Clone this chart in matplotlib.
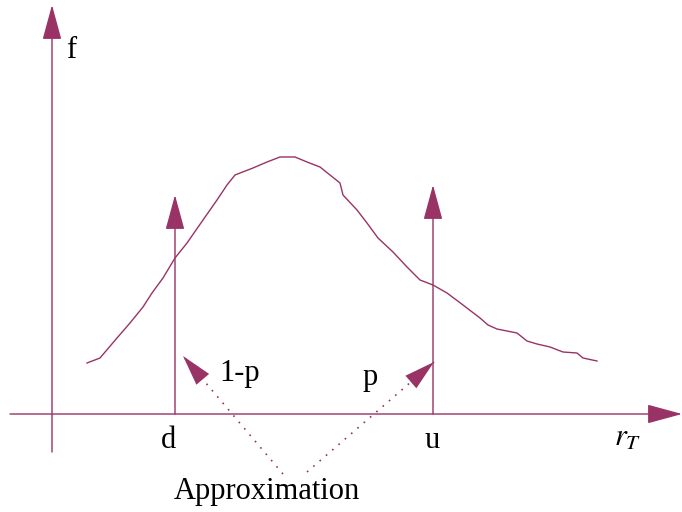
import matplotlib
matplotlib.use("Agg")
import matplotlib.pyplot as plt

# diagram drawn in pixel coordinates of the 682x512 picture (y grows downward)
curve_x = [87, 100, 117, 130, 143, 152, 163, 175, 187, 203, 217, 227, 235, 253,
           267, 280, 295, 307, 320, 330, 340, 343, 357, 367, 378, 393, 407, 420,
           433, 447, 463, 480, 488, 497, 517, 527, 537, 550, 563, 577, 583, 597]
curve_y = [363, 358, 338, 323, 307, 293, 278, 258, 243, 220, 200, 185, 175, 168,
           162, 157, 157, 162, 167, 175, 183, 195, 210, 223, 238, 252, 267, 280,
           285, 293, 305, 318, 325, 329, 333, 341, 344, 347, 352, 353, 358, 361]

labels = {"d": (168, 440), "u": (432, 440), "1-p": (240, 373), "p": (370, 378)}

col = "#993366"
fig = plt.figure(figsize=(6.82, 5.12), dpi=100)
ax = fig.add_axes([0, 0, 1, 1])
ax.set_xlim(0, 682)
ax.set_ylim(512, 0)
ax.axis("off")

def arrow(x0, y0, x1, y1, lw=1.0):
    ax.annotate("", xy=(x1, y1), xytext=(x0, y0),
                arrowprops=dict(arrowstyle="-|>,head_length=1.1,head_width=0.3",
                                mutation_scale=20, color=col, lw=lw,
                                shrinkA=0, shrinkB=0))

# axes
arrow(52, 452, 52, 5)
arrow(10, 414, 682, 414)
# spikes at d and u
arrow(175, 414, 175, 195)
arrow(433, 414, 433, 185)

# approximation pointers: dotted shaft, solid head
for (x0, y0), (x1, y1) in [((283, 474), (183, 356)), ((307, 472), (434, 362))]:
    ax.plot([x0, x1], [y0, y1], color=col, lw=1.2, ls=(0, (1, 4)))
    fx = x0 + (x1 - x0) * 0.8
    fy = y0 + (y1 - y0) * 0.8
    ax.annotate("", xy=(x1, y1), xytext=(fx, fy),
                arrowprops=dict(arrowstyle="-|>,head_length=1.1,head_width=0.3",
                                mutation_scale=20, color=col, lw=0,
                                shrinkA=0, shrinkB=0))

ax.plot(curve_x, curve_y, color=col, lw=1.0)

font = dict(family="Liberation Serif", fontsize=22)
ax.text(66, 50, "f", ha="left", va="center", **font)
for t, (x, y) in labels.items():
    ax.text(x, y, t, ha="center", va="center", **font)
ax.text(628, 437, r"$r_T$", ha="center", va="center", fontsize=22,
        math_fontfamily="stix")
ax.text(267, 492, "Approximation", ha="center", va="center", **font)

fig.savefig("out.png", dpi=100)
